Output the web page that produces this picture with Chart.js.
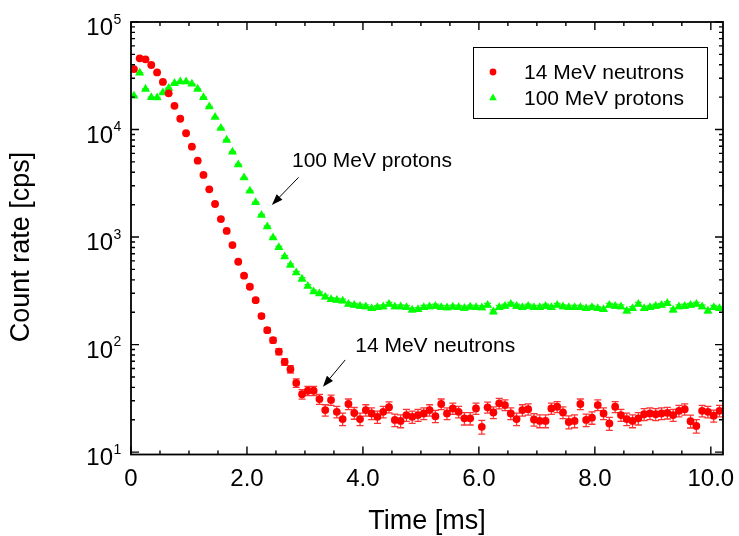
<!DOCTYPE html>
<html>
<head>
<meta charset="utf-8">
<title>Count rate vs time</title>
<script src="https://cdn.jsdelivr.net/npm/chart.js@4.4.1/dist/chart.umd.min.js"></script>
<style>
  html, body { margin: 0; padding: 0; background: #fff; }
  #wrap { width: 739px; height: 536px; }
</style>
</head>
<body>
<div id="wrap"><canvas id="decayChart" width="739" height="536"></canvas></div>
<script>
// time bin centres [ms]
const timeMs = [
  0.05, 0.15, 0.25, 0.35, 0.45, 0.55, 0.65, 0.75, 0.85, 0.95,
  1.05, 1.15, 1.25, 1.35, 1.45, 1.55, 1.65, 1.75, 1.85, 1.95,
  2.05, 2.15, 2.25, 2.35, 2.45, 2.55, 2.65, 2.75, 2.85, 2.95,
  3.05, 3.15, 3.25, 3.35, 3.45, 3.55, 3.65, 3.75, 3.85, 3.95,
  4.05, 4.15, 4.25, 4.35, 4.45, 4.55, 4.65, 4.75, 4.85, 4.95,
  5.05, 5.15, 5.25, 5.35, 5.45, 5.55, 5.65, 5.75, 5.85, 5.95,
  6.05, 6.15, 6.25, 6.35, 6.45, 6.55, 6.65, 6.75, 6.85, 6.95,
  7.05, 7.15, 7.25, 7.35, 7.45, 7.55, 7.65, 7.75, 7.85, 7.95,
  8.05, 8.15, 8.25, 8.35, 8.45, 8.55, 8.65, 8.75, 8.85, 8.95,
  9.05, 9.15, 9.25, 9.35, 9.45, 9.55, 9.65, 9.75, 9.85, 9.95,
  10.05, 10.15
];

// count rate [cps], 14 MeV neutrons
const neutronRate = [
  36500, 45900, 45000, 39800, 34000, 27700, 21700, 16600, 12600, 9230,
  6920, 5130, 3780, 2780, 2030, 1470, 1140, 843, 589, 437,
  345, 259, 184, 136, 110, 86, 69, 59, 44, 34.6,
  37.2, 37.2, 31.1, 24.6, 30.5, 23.7, 20.3, 28, 23.1, 20.3,
  24.6, 22.9, 21.3, 23.7, 26.2, 19.9, 19.5, 22.1, 21.3, 22.1,
  22.9, 24.6, 21.6, 28, 22.9, 25.5, 23.7, 20.6, 20.6, 25.5,
  17.2, 26.1, 23.4, 28.4, 27.4, 22.9, 20.3, 24.6, 25.1, 20.1,
  19.5, 19.5, 25.5, 26.4, 23.4, 19.1, 19.5, 28, 19.9, 20.9,
  27.4, 22.9, 18.5, 26.4, 22.1, 20.3, 19.5, 20.6, 22.5, 22.9,
  22.5, 22.9, 23.2, 22.1, 24.2, 25.1, 19.4, 17.5, 24.2, 23.7,
  21.8, 24.2
];

// count rate [cps], 100 MeV protons
const protonRate = [
  20500, 33700, 23800, 19900, 19800, 22000, 24200, 26900, 27900, 27900,
  26500, 23800, 19900, 16300, 13000, 10300, 7980, 6180, 4720, 3560,
  2680, 2100, 1600, 1250, 985, 802, 656, 549, 466, 407,
  350, 310, 298, 278, 263, 259, 255, 238, 233, 228,
  225, 217, 222, 225, 238, 225, 225, 222, 210, 212,
  222, 225, 228, 222, 220, 224, 222, 218, 224, 222,
  220, 233, 202, 222, 228, 238, 228, 222, 228, 222,
  222, 228, 222, 233, 225, 222, 222, 222, 217, 222,
  217, 212, 233, 228, 225, 206, 217, 238, 217, 222,
  228, 233, 242, 210, 225, 228, 233, 238, 225, 206,
  222, 217
];

const seriesLabels = ['14 MeV neutrons', '100 MeV protons'];
const xTickValues = [0, 2, 4, 6, 8, 10];
const xTickLabels = ['0', '2.0', '4.0', '6.0', '8.0', '10.0'];
const yDecadeExponents = [1, 2, 3, 4, 5];

const FONT = '"Liberation Sans", Arial, Helvetica, sans-serif';
const countingError = 0.6;   // error bar = k * sqrt(rate)

// text + arrow callouts, in data coordinates
const callouts = [
  { text: '100 MeV protons', at: [2.776, 4510], from: [2.89, 3590], to: [2.43, 1990] },
  { text: '14 MeV neutrons', at: [3.867, 85.7], from: [3.695, 72], to: [3.31, 40.5] }
];

function toPoints(xs, ys) {
  return ys.map((v, i) => ({ x: xs[i], y: v }));
}

function isDecade(v) {
  const l = Math.log10(v);
  return Math.abs(l - Math.round(l)) < 1e-9;
}

// error bars drawn under the markers
const errorBarPlugin = {
  id: 'errorBars',
  beforeDatasetsDraw(chart) {
    const { ctx, scales: { y } } = chart;
    ctx.save();
    chart.data.datasets.forEach((ds, di) => {
      const meta = chart.getDatasetMeta(di);
      ctx.strokeStyle = ds.errorColor;
      ctx.lineWidth = 1.3;
      ctx.beginPath();
      meta.data.forEach((pt, i) => {
        const v = ds.data[i].y;
        const s = countingError * Math.sqrt(v);
        const top = y.getPixelForValue(v + s);
        const bot = y.getPixelForValue(v - s);
        ctx.moveTo(pt.x, top); ctx.lineTo(pt.x, bot);
        ctx.moveTo(pt.x - 3.5, top); ctx.lineTo(pt.x + 3.5, top);
        ctx.moveTo(pt.x - 3.5, bot); ctx.lineTo(pt.x + 3.5, bot);
      });
      ctx.stroke();
    });
    ctx.restore();
  }
};

// box, inward ticks, tick labels, titles, legend, callouts
const framePlugin = {
  id: 'frame',
  afterDraw(chart) {
    const { ctx, chartArea: a, scales: { x, y } } = chart;
    ctx.save();

    ctx.strokeStyle = '#000';
    ctx.lineWidth = 1.4;
    ctx.beginPath();
    x.ticks.forEach(t => {
      const px = x.getPixelForValue(t.value);
      const len = xTickValues.includes(t.value) ? 8 : 4;
      ctx.moveTo(px, a.bottom); ctx.lineTo(px, a.bottom - len);
      ctx.moveTo(px, a.top); ctx.lineTo(px, a.top + len);
    });
    y.ticks.forEach(t => {
      const py = y.getPixelForValue(t.value);
      const len = isDecade(t.value) ? 8 : 4;
      ctx.moveTo(a.left, py); ctx.lineTo(a.left + len, py);
      ctx.moveTo(a.right, py); ctx.lineTo(a.right - len, py);
    });
    ctx.stroke();

    ctx.lineWidth = 1.8;
    ctx.strokeRect(a.left, a.top, a.right - a.left, a.bottom - a.top);

    ctx.fillStyle = '#000';
    ctx.textBaseline = 'alphabetic';

    // x tick labels
    ctx.font = '24px ' + FONT;
    ctx.textAlign = 'center';
    xTickValues.forEach((v, i) => {
      ctx.fillText(xTickLabels[i], x.getPixelForValue(v), a.bottom + 31);
    });

    // y tick labels 10^n
    yDecadeExponents.forEach(e => {
      const py = y.getPixelForValue(Math.pow(10, e));
      ctx.font = '24px ' + FONT;
      ctx.textAlign = 'right';
      ctx.fillText('10', a.left - 18, py + 13);
      ctx.font = '14px ' + FONT;
      ctx.textAlign = 'left';
      ctx.fillText(String(e), a.left - 17.5, py + 1.5);
    });

    // axis titles
    ctx.font = '27px ' + FONT;
    ctx.textAlign = 'center';
    ctx.fillText('Time [ms]', (a.left + a.right) / 2, a.bottom + 74);
    ctx.save();
    ctx.translate(29, 247);
    ctx.rotate(-Math.PI / 2);
    ctx.fillText('Count rate [cps]', 0, 0);
    ctx.restore();

    // legend
    const lx = a.right - 250, ly = a.top + 25, lw = 234, lh = 71;
    ctx.lineWidth = 1;
    ctx.strokeStyle = '#000';
    ctx.strokeRect(lx + 0.5, ly + 0.5, lw, lh);
    ctx.font = '21px ' + FONT;
    ctx.textAlign = 'left';
    ctx.textBaseline = 'middle';
    chart.data.datasets.forEach((ds, i) => {
      const yy = ly + 25 + i * 26;
      ctx.fillStyle = ds.backgroundColor;
      Chart.helpers.drawPoint(ctx, {
        pointStyle: ds.pointStyle, radius: ds.legendRadius,
        borderWidth: 0, rotation: 0
      }, lx + 20, yy);
      ctx.fillStyle = '#000';
      ctx.fillText(ds.label, lx + 51, yy + 1);
    });

    // callouts with arrows
    ctx.textBaseline = 'alphabetic';
    ctx.font = '21px ' + FONT;
    callouts.forEach(c => {
      ctx.fillStyle = '#000';
      ctx.fillText(c.text, x.getPixelForValue(c.at[0]), y.getPixelForValue(c.at[1]));
      const x1 = x.getPixelForValue(c.from[0]), y1 = y.getPixelForValue(c.from[1]);
      const x2 = x.getPixelForValue(c.to[0]), y2 = y.getPixelForValue(c.to[1]);
      const ang = Math.atan2(y2 - y1, x2 - x1);
      const hl = 11, hw = 4;
      const bx = x2 - hl * Math.cos(ang), by = y2 - hl * Math.sin(ang);
      ctx.strokeStyle = '#000';
      ctx.lineWidth = 1;
      ctx.beginPath();
      ctx.moveTo(x1, y1); ctx.lineTo(bx, by);
      ctx.stroke();
      ctx.beginPath();
      ctx.moveTo(x2, y2);
      ctx.lineTo(bx + hw * Math.sin(ang), by - hw * Math.cos(ang));
      ctx.lineTo(bx - hw * Math.sin(ang), by + hw * Math.cos(ang));
      ctx.closePath();
      ctx.fill();
    });

    ctx.restore();
  }
};

function createDecayChart() {
  const ctx = document.getElementById('decayChart').getContext('2d');
  new Chart(ctx, {
    type: 'scatter',
    data: {
      datasets: [
        {
          label: seriesLabels[0],
          data: toPoints(timeMs, neutronRate),
          pointStyle: 'circle',
          pointRadius: 3.9,
          legendRadius: 3.4,
          pointBorderWidth: 0,
          backgroundColor: '#ff0000',
          borderColor: '#ff0000',
          errorColor: 'rgba(255, 0, 0, 0.8)'
        },
        {
          label: seriesLabels[1],
          data: toPoints(timeMs, protonRate),
          pointStyle: 'triangle',
          pointRadius: 5.2,
          legendRadius: 4.4,
          pointBorderWidth: 0,
          backgroundColor: '#00ff00',
          borderColor: '#00ff00',
          errorColor: 'rgba(0, 235, 0, 0.8)'
        }
      ]
    },
    options: {
      responsive: false,
      devicePixelRatio: 1,
      animation: false,
      layout: { padding: { left: 131, top: 22, right: 16, bottom: 81.5 } },
      plugins: {
        legend: { display: false },
        tooltip: { enabled: false }
      },
      scales: {
        x: {
          type: 'linear',
          min: 0,
          max: 10.21,
          grid: { display: false, drawTicks: false },
          border: { display: false },
          ticks: { display: false },
          afterBuildTicks: axis => {
            const ticks = [];
            for (let v = 0; v <= 10; v += 0.5) ticks.push({ value: v });
            axis.ticks = ticks;
          }
        },
        y: {
          type: 'logarithmic',
          min: 9.5,
          max: 100000,
          grid: { display: false, drawTicks: false },
          border: { display: false },
          ticks: { display: false },
          afterBuildTicks: axis => {
            const ticks = [];
            yDecadeExponents.forEach(e => {
              const base = Math.pow(10, e);
              const top = e === yDecadeExponents[yDecadeExponents.length - 1] ? 1 : 9;
              for (let m = 1; m <= top; m++) ticks.push({ value: m * base });
            });
            axis.ticks = ticks;
          }
        }
      }
    },
    plugins: [errorBarPlugin, framePlugin]
  });
}

createDecayChart();
</script>
</body>
</html>
